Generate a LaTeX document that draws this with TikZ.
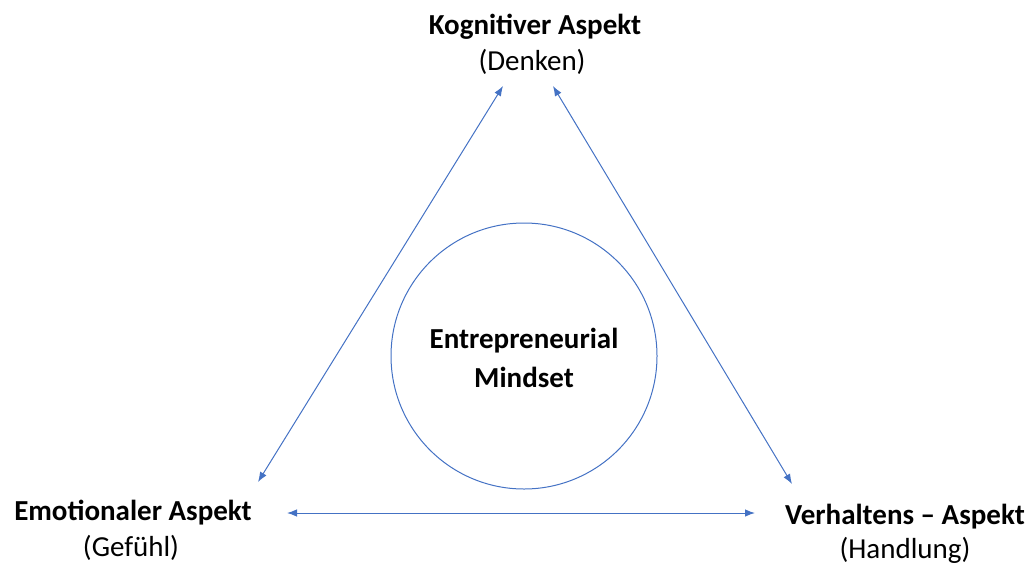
\documentclass[tikz,border=0pt]{standalone}
\usepackage{fontspec}
\setmainfont{Carlito}
\usetikzlibrary{arrows.meta}
\definecolor{obl}{HTML}{4472C4}
\begin{document}
\begin{tikzpicture}[x=1pt,y=-1pt,
  conn/.style={draw=obl,line width=1pt,{Latex[length=10pt,width=7.5pt]}-{Latex[length=10pt,width=7.5pt]}},
  lbl/.style={align=center,font=\fontsize{29}{35}\selectfont,inner sep=0pt}]
\useasboundingbox (0,0) rectangle (1032,565);
\node[lbl] (k1) at (535,27) {\textbf{Kognitiver Aspekt}};
\node[lbl] (k2) at (532,62) {(Denken)};
\node[lbl] (e1) at (133,513) {\textbf{Emotionaler Aspekt}};
\node[lbl] (e2) at (131,548) {(Gefühl)};
\node[lbl] (v1) at (905,517) {\textbf{Verhaltens – Aspekt}};
\node[lbl] (v2) at (905,550) {(Handlung)};
\node[circle,draw=obl,line width=1pt,minimum size=266pt,inner sep=0pt] (c) at (524,356) {};
\node[lbl] (m1) at (524,341) {\textbf{Entrepreneurial}};
\node[lbl] (m2) at (524,377) {\textbf{Mindset}};
\coordinate (a1) at (258,482);
\coordinate (a2) at (503,86);
\coordinate (b1) at (553,86);
\coordinate (b2) at (792,484);
\coordinate (d1) at (287,513);
\coordinate (d2) at (755,513);
\draw[conn] (a1) -- (a2);
\draw[conn] (b1) -- (b2);
\draw[conn] (d1) -- (d2);
\end{tikzpicture}
\end{document}
